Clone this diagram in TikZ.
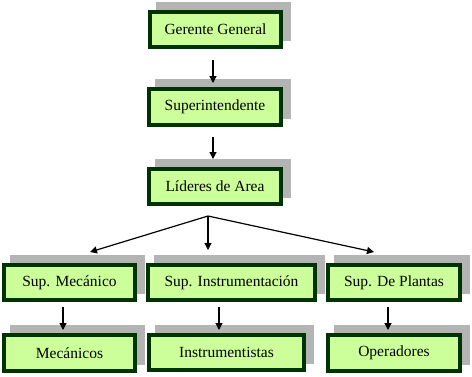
\documentclass[tikz,border=0pt]{standalone}
\usepackage{fontspec}
\setmainfont{Liberation Serif}
\usetikzlibrary{arrows.meta,backgrounds}
\definecolor{boxfill}{HTML}{CCFF99}
\definecolor{boxline}{HTML}{003300}
\definecolor{shadowc}{HTML}{B4B4B4}
\tikzset{
  orgbox/.style={draw=boxline, fill=boxfill, line width=4pt, inner sep=0pt,
    minimum height=35pt, font=\fontsize{15.5}{18}\selectfont, text=black},
  arr/.style={draw=black, line width=1.2pt, -{Triangle[length=7pt,width=7pt]}},
}
\newcommand{\boxshadow}[1]{%
  \begin{pgfonlayer}{background}
    \fill[shadowc] ([shift={(8,-8)}]#1.south west) rectangle ([shift={(8,-8)}]#1.north east);
  \end{pgfonlayer}}
\begin{document}
\begin{tikzpicture}[x=1pt,y=-1pt]
\useasboundingbox (0,0) rectangle (472,376);
% nodes
\node[orgbox, minimum width=131pt] (g) at (215.5,29.5) {Gerente General};
\node[orgbox, minimum width=132pt, minimum height=36pt] (s) at (215,107) {Superintendente};
\node[orgbox, minimum width=132pt] (l) at (215,186.5) {Líderes de Area};
\node[orgbox, minimum width=131pt] (sm) at (69.5,282.5) {Sup. Mecánico};
\node[orgbox, minimum width=167pt] (si) at (231.5,282.5) {Sup. Instrumentación};
\node[orgbox, minimum width=132pt] (sp) at (394,282.5) {Sup. De Plantas};
\node[orgbox, minimum width=131pt, minimum height=36pt] (m) at (69.5,353) {Mecánicos};
\node[orgbox, minimum width=155pt] (i) at (226.5,352.5) {Instrumentistas};
\node[orgbox, minimum width=132pt, minimum height=36pt] (o) at (394,353) {Operadores};
% shadows
\boxshadow{g}
\boxshadow{s}
\boxshadow{l}
\boxshadow{sm}
\boxshadow{si}
\boxshadow{sp}
\boxshadow{m}
\boxshadow{i}
\boxshadow{o}
% connectors
\draw[arr, shorten <=11pt, shorten >=4pt] ([xshift=-2.5pt]g.south) -- ([xshift=-2pt]s.north);
\draw[arr, shorten <=10pt, shorten >=8pt] ([xshift=-2pt]s.south) -- ([xshift=-2pt]l.north);
\coordinate (br) at (208,216);
\coordinate (t1) at (90,252);
\coordinate (t2) at (208,250);
\coordinate (t3) at (374,252);
\draw[arr] (br) -- (t1);
\draw[arr] (br) -- (t2);
\draw[arr] (br) -- (t3);
\draw[arr, shorten <=5pt, shorten >=3pt] ([xshift=-6.5pt]sm.south) -- ([xshift=-6.5pt]m.north);
\draw[arr, shorten <=5pt, shorten >=3pt] ([xshift=-12.5pt]si.south) -- ([xshift=-7.5pt]i.north);
\draw[arr, shorten <=5pt, shorten >=3pt] ([xshift=-6pt]sp.south) -- ([xshift=-6pt]o.north);
\end{tikzpicture}
\end{document}
